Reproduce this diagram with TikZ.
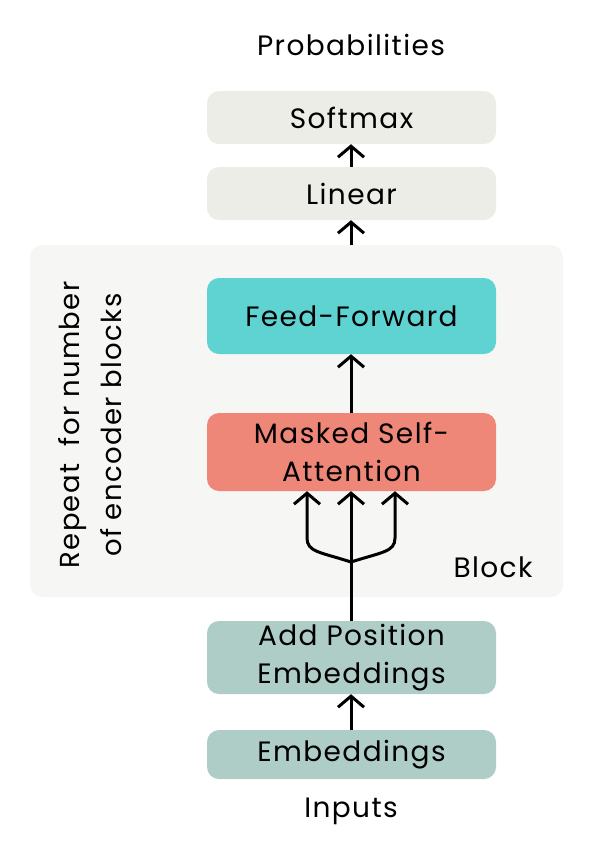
\documentclass[tikz,border=0pt]{standalone}
\usepackage{fontspec}
\setmainfont{Poppins}[LetterSpace=5]
\usetikzlibrary{arrows.meta}
\definecolor{greybox}{HTML}{EBEDE6}
\definecolor{tealbox}{HTML}{5ED3D1}
\definecolor{salmonbox}{HTML}{EF8778}
\definecolor{sagebox}{HTML}{AFCDC7}
\definecolor{blockbg}{HTML}{F6F7F4}
\begin{document}
\begin{tikzpicture}[x=1pt,y=-1pt,
  layerbox/.style={rounded corners=12pt, minimum width=289pt, align=center,
    font=\fontsize{28}{38}\selectfont, inner sep=0pt},
  lbl/.style={font=\fontsize{28}{38}\selectfont, inner sep=0pt},
  flow/.style={line width=3pt, -{Straight Barb[length=11pt,width=26pt,line width=3pt]}}]
  \useasboundingbox (0,0) rectangle (590,852);
  % repeated encoder block
  \fill[blockbg, rounded corners=12pt] (30,245) rectangle (563,597);
  \node[lbl] (blocklbl) at (493,567) {Block};
  \node[lbl, rotate=90, align=center, font=\fontsize{27.5}{42}\selectfont] (repeat) at (90,425)
    {Repeat\ \ for number\\of encoder blocks};
  % layer boxes
  \node[layerbox, fill=greybox, minimum height=53pt] (softmax) at (351.5,117.5) {Softmax};
  \node[layerbox, fill=greybox, minimum height=53pt] (linear) at (351.5,193.5) {Linear};
  \node[layerbox, fill=tealbox, minimum height=76pt] (ff) at (351.5,316) {Feed-Forward};
  \node[layerbox, fill=salmonbox, minimum height=78pt] (msa) at (351.5,452) {Masked Self-\\Attention};
  \node[layerbox, fill=sagebox, minimum height=73pt] (ape) at (351.5,657.5) {Add Position\\Embeddings};
  \node[layerbox, fill=sagebox, minimum height=49pt] (emb) at (351.5,754.5) {Embeddings};
  \node[lbl] (probs) at (351,45) {Probabilities};
  \node[lbl] (inputs) at (351,811) {Inputs};
  % connectors
  \coordinate (blocktop) at (351,245);
  \coordinate (split) at (351,562);
  \draw[flow] (linear.north -| 351,0) -- (softmax.south -| 351,0);
  \draw[flow] (blocktop) -- (linear.south -| 351,0);
  \draw[flow] (msa.north -| 351,0) -- (ff.south -| 351,0);
  \draw[flow] (emb.north -| 351,0) -- (ape.south -| 351,0);
  \draw[line width=3pt] (ape.north -| 351,0) -- (split);
  \draw[flow] (split) -- (msa.south -| 351,0);
  \draw[flow] (split) .. controls (320,552) and (307,552) .. (307,538) -- (msa.south -| 307,0);
  \draw[flow] (split) .. controls (382,552) and (395,552) .. (395,538) -- (msa.south -| 395,0);
\end{tikzpicture}
\end{document}
